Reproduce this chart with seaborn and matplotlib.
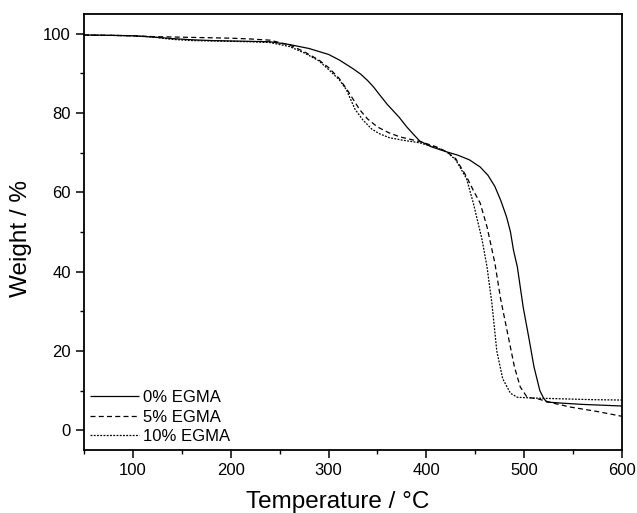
import numpy as np
import pandas as pd
import seaborn as sns
import matplotlib
matplotlib.use("Agg")
import matplotlib.pyplot as plt
from matplotlib.ticker import MultipleLocator

# --- data ---
labels = ["0% EGMA", "5% EGMA", "10% EGMA"]

t_0 = [50, 80, 100, 120, 140, 160, 180, 200, 220, 240, 260, 280, 300, 311, 325, 333, 340,
       346, 351, 360, 366, 372, 380, 387, 393, 405, 421, 432, 444, 455, 463, 470, 476, 482,
       486, 489, 493, 499, 505, 510, 516, 520, 523, 540, 560, 580, 600]
w_0 = [99.7, 99.6, 99.5, 99.2, 98.8, 98.5, 98.3, 98.2, 98.1, 98.0, 97.3, 96.3, 94.8, 93.4,
       91.2, 89.8, 88.2, 86.6, 85.0, 82.2, 80.6, 79.0, 76.5, 74.6, 73.0, 71.5, 70.2, 69.4,
       68.2, 66.4, 64.3, 61.5, 58.0, 53.8, 50.0, 45.5, 41.2, 31.0, 23.0, 16.0, 10.0, 8.0,
       7.1, 6.8, 6.5, 6.3, 6.1]

t_5 = [50, 80, 100, 120, 140, 160, 180, 200, 220, 240, 260, 275, 290, 300, 311, 320, 332,
       340, 350, 362, 373, 385, 395, 410, 421, 430, 441, 448, 455, 462, 470, 476, 483, 490,
       496, 503, 514, 530, 548, 575, 600]
w_5 = [99.7, 99.6, 99.5, 99.3, 99.2, 99.1, 99.0, 98.9, 98.7, 98.4, 97.2, 95.5, 93.4, 91.5,
       88.7, 85.5, 80.8, 78.5, 76.5, 75.0, 74.0, 73.3, 72.7, 71.5, 70.2, 68.5, 64.0, 60.5,
       57.3, 51.3, 42.2, 33.0, 24.5, 16.0, 10.9, 8.3, 7.9, 6.8, 5.8, 4.7, 3.5]

t_10 = [50, 80, 100, 120, 140, 160, 180, 200, 220, 240, 260, 275, 290, 300, 311, 318, 327,
        335, 344, 352, 362, 375, 393, 410, 421, 430, 441, 448, 457, 462, 467, 472, 478, 486,
        493, 510, 540, 570, 600]
w_10 = [99.7, 99.6, 99.5, 99.2, 98.6, 98.3, 98.2, 98.1, 98.0, 97.8, 96.8, 95.2, 93.2, 91.0,
        88.4, 86.0, 81.0, 78.3, 76.0, 74.8, 73.8, 73.2, 72.5, 71.3, 70.2, 68.2, 63.5, 57.3,
        48.0, 41.2, 32.0, 20.0, 13.0, 9.3, 8.3, 8.1, 7.9, 7.7, 7.6]

x_ticks = [100, 200, 300, 400, 500, 600]
y_ticks = [0, 20, 40, 60, 80, 100]

df = pd.concat([
    pd.DataFrame({"T": t_0, "W": w_0, "series": labels[0]}),
    pd.DataFrame({"T": t_5, "W": w_5, "series": labels[1]}),
    pd.DataFrame({"T": t_10, "W": w_10, "series": labels[2]}),
], ignore_index=True)

sns.set_style("ticks")
plt.rcParams["font.family"] = ["Liberation Sans", "DejaVu Sans"]
for k in ["text.color", "axes.labelcolor", "xtick.color", "ytick.color", "axes.edgecolor"]:
    plt.rcParams[k] = "black"

fig = plt.figure(figsize=(6.37, 5.13), dpi=100)
ax = fig.add_axes([84 / 637, 63 / 513, 538 / 637, 436 / 513])

sns.lineplot(data=df, x="T", y="W", hue="series", style="series",
             palette=["black"] * 3, dashes=[(1, 0), (4, 2.6), (1.5, 1.1)],
             linewidth=0.9, sort=False, estimator=None, ax=ax)

ax.set_xlim(50, 600)
ax.set_ylim(-5, 105)
ax.set_xticks(x_ticks)
ax.set_yticks(y_ticks)
ax.xaxis.set_minor_locator(MultipleLocator(50))
ax.yaxis.set_minor_locator(MultipleLocator(10))
ax.tick_params(which="major", direction="out", length=5.5, width=1.1, labelsize=12,
               pad=4, top=False, right=False)
ax.tick_params(which="minor", direction="out", length=3, width=1.0, top=False, right=False)
for s in ax.spines.values():
    s.set_linewidth(1.3)
    s.set_visible(True)
    s.set_color("black")

ax.set_xlabel("Temperature / °C", fontsize=17.5)
ax.set_ylabel("Weight / %", fontsize=17.5)
ax.xaxis.set_label_coords(0.472, -0.093)
ax.yaxis.set_label_coords(-0.096, 0.486)

leg = ax.legend(loc="lower left", frameon=False, fontsize=12, handlelength=2.9,
                handletextpad=0.25, labelspacing=0.28, borderaxespad=0.0, borderpad=0.35,
                bbox_to_anchor=(0.001, 0.0))

fig.savefig("out.png", dpi=100)
